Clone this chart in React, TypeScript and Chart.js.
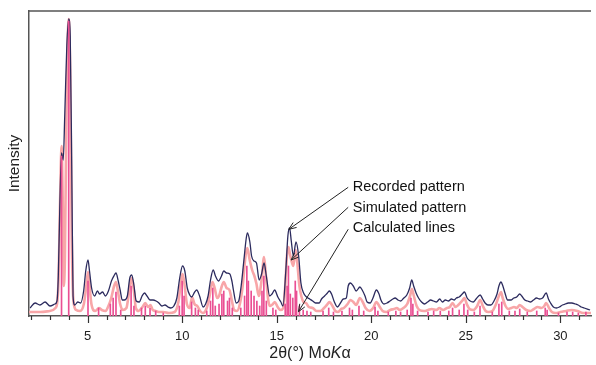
import React, { useEffect, useRef } from 'react';
import { Chart, registerables } from 'chart.js';

Chart.register(...registerables);

// ---- axis range and tick labels ----
const X_MIN = 1.9;
const X_MAX = 31.62;
const Y_MAX = 305;
const xMajorTicks = [5, 10, 15, 20, 25, 30];
const xMinorTicks = [2, 3, 4, 6, 7, 8, 9, 11, 12, 13, 14, 16, 17, 18, 19, 21, 22, 23, 24, 26, 27, 28, 29, 31];

// ---- recorded pattern (2θ, intensity) ----
const recordedTheta = [
  1.96, 2.22, 2.48, 2.75, 3.01, 3.27, 3.38, 3.45, 3.53, 3.62, 3.71, 3.79, 3.9, 4.0, 4.08, 4.16, 4.23, 4.32, 4.48, 4.63,
  4.79, 4.9, 5.02, 5.1, 5.21, 5.37, 5.52, 5.63, 5.79, 5.94, 6.1, 6.26, 6.39, 6.5, 6.62, 6.73, 6.83, 6.94, 7.1, 7.23,
  7.33, 7.44, 7.57, 7.73, 7.88, 8.01, 8.14, 8.3, 8.46, 8.62, 8.77, 8.93, 9.09, 9.25, 9.4, 9.56, 9.72, 9.87, 10.02, 10.14,
  10.27, 10.4, 10.5, 10.66, 10.77, 10.92, 11.11, 11.24, 11.37, 11.5, 11.64, 11.76, 11.92, 12.08, 12.2, 12.34, 12.52, 12.63, 12.71, 12.86,
  12.99, 13.12, 13.26, 13.39, 13.45, 13.58, 13.67, 13.8, 13.93, 14.07, 14.2, 14.33, 14.45, 14.63, 14.75, 14.89, 15.06, 15.22, 15.33, 15.48,
  15.59, 15.68, 15.77, 15.88, 16.02, 16.16, 16.28, 16.42, 16.58, 16.74, 16.9, 17.05, 17.25, 17.37, 17.53, 17.68, 17.79, 17.9, 18.05, 18.21,
  18.37, 18.52, 18.68, 18.78, 18.9, 19.05, 19.2, 19.4, 19.52, 19.67, 19.78, 19.94, 20.09, 20.27, 20.41, 20.51, 20.67, 20.83, 20.99, 21.14,
  21.26, 21.41, 21.56, 21.72, 21.88, 22.03, 22.14, 22.24, 22.37, 22.5, 22.66, 22.82, 22.98, 23.14, 23.29, 23.45, 23.62, 23.76, 23.92, 24.08,
  24.24, 24.39, 24.5, 24.65, 24.81, 24.93, 25.07, 25.23, 25.39, 25.54, 25.76, 25.89, 26.02, 26.17, 26.33, 26.49, 26.65, 26.75, 26.86, 26.96,
  27.07, 27.21, 27.38, 27.54, 27.69, 27.85, 27.96, 28.12, 28.27, 28.43, 28.58, 28.74, 28.9, 29.06, 29.25, 29.37, 29.48, 29.63, 29.79, 29.95,
  30.11, 30.26, 30.42, 30.61, 30.79, 30.94, 31.1, 31.26, 31.57,
];
const recordedI = [
  8, 13, 11, 14, 10, 12, 15, 40, 110, 163, 156, 200, 270, 297, 280, 150, 20, 11, 14, 13,
  25, 45, 56, 45, 28, 20, 25, 22, 24, 20, 25, 35, 40, 43, 35, 25, 16, 16, 20, 38,
  41, 32, 15, 14, 20, 23, 20, 16, 16, 15, 13, 10, 11, 9, 8, 10, 18, 38, 50, 45,
  28, 21, 19, 24, 26, 20, 9, 12, 20, 36, 46, 40, 35, 40, 45, 43, 42, 35, 26, 13,
  15, 30, 55, 78, 83, 74, 60, 55, 53, 36, 42, 53, 40, 20, 22, 26, 19, 14, 10, 45,
  80, 88, 75, 60, 74, 60, 33, 23, 19, 17, 15, 13, 13, 17, 20, 23, 25, 22, 14, 9,
  13, 17, 18, 30, 33, 30, 25, 29, 26, 20, 14, 13, 18, 26, 22, 16, 12, 13, 15, 17,
  18, 16, 15, 18, 21, 28, 36, 30, 23, 18, 14, 12, 14, 16, 15, 14, 17, 14, 16, 15,
  17, 16, 18, 19, 22, 24, 18, 15, 14, 17, 21, 17, 13, 11, 11, 15, 22, 30, 34, 30,
  23, 16, 16, 18, 19, 22, 20, 16, 15, 14, 16, 18, 17, 18, 23, 17, 13, 9, 8, 9,
  11, 12, 13, 13, 12, 11, 9, 8, 6,
];

// ---- simulated pattern (2θ, intensity) ----
const simulatedTheta = [
  1.9, 2.5, 3.0, 3.3, 3.45, 3.55, 3.62, 3.68, 3.74, 3.8, 3.88, 4.0, 4.08, 4.16, 4.25, 4.4, 4.6, 4.8, 4.93, 5.02,
  5.1, 5.2, 5.4, 5.6, 5.75, 5.95, 6.1, 6.25, 6.4, 6.5, 6.6, 6.72, 6.85, 7.05, 7.2, 7.33, 7.45, 7.55, 7.7, 7.9,
  8.05, 8.2, 8.32, 8.45, 8.6, 8.8, 9.0, 9.3, 9.6, 9.8, 9.95, 10.02, 10.12, 10.25, 10.4, 10.52, 10.65, 10.8, 10.95, 11.1,
  11.3, 11.45, 11.6, 11.72, 11.85, 11.95, 12.1, 12.2, 12.35, 12.5, 12.62, 12.75, 12.9, 13.05, 13.2, 13.35, 13.45, 13.55, 13.7, 13.82,
  13.93, 14.05, 14.2, 14.33, 14.43, 14.55, 14.65, 14.8, 14.9, 15.05, 15.2, 15.35, 15.45, 15.55, 15.62, 15.7, 15.77, 15.88, 16.0, 16.08,
  16.2, 16.3, 16.42, 16.55, 16.7, 16.9, 17.1, 17.3, 17.5, 17.65, 17.79, 17.95, 18.1, 18.25, 18.4, 18.55, 18.75, 18.9, 19.05, 19.2,
  19.4, 19.55, 19.7, 19.9, 20.1, 20.27, 20.45, 20.6, 20.8, 21.0, 21.2, 21.35, 21.5, 21.7, 21.9, 22.05, 22.15, 22.25, 22.4, 22.55,
  22.8, 23.0, 23.2, 23.45, 23.6, 23.8, 24.0, 24.15, 24.3, 24.45, 24.6, 24.8, 24.93, 25.05, 25.2, 25.4, 25.6, 25.76, 25.9, 26.05,
  26.2, 26.4, 26.6, 26.75, 26.86, 26.95, 27.1, 27.25, 27.4, 27.55, 27.7, 27.85, 28.0, 28.2, 28.43, 28.6, 28.8, 29.0, 29.15, 29.25,
  29.4, 29.55, 29.75, 30.0, 30.3, 30.6, 30.9, 31.2, 31.62,
];
const simulatedI = [
  4, 4, 5, 8, 30, 120, 170, 120, 30, 60, 200, 297, 240, 80, 15, 6, 5, 12, 30, 44,
  30, 12, 5, 8, 6, 5, 10, 18, 30, 34, 25, 12, 6, 8, 25, 38, 25, 8, 5, 9,
  13, 9, 11, 6, 5, 4, 4, 3, 4, 14, 36, 42, 32, 12, 8, 19, 12, 10, 5, 3,
  8, 20, 34, 28, 18, 20, 30, 34, 28, 26, 16, 6, 5, 12, 30, 60, 68, 58, 46, 40,
  32, 20, 36, 59, 40, 16, 10, 12, 14, 9, 6, 8, 30, 62, 69, 62, 56, 50, 66, 55,
  30, 20, 14, 13, 9, 8, 5, 5, 8, 11, 14, 10, 5, 4, 7, 8, 12, 16, 14, 11,
  18, 14, 8, 5, 8, 14, 9, 5, 4, 6, 7, 8, 6, 8, 12, 20, 27, 20, 10, 6,
  5, 6, 7, 6, 8, 6, 8, 9, 13, 9, 11, 15, 18, 12, 7, 6, 10, 16, 10, 5,
  4, 5, 12, 20, 24, 18, 10, 7, 8, 9, 8, 11, 9, 6, 5, 7, 9, 8, 10, 13,
  8, 4, 3, 4, 5, 6, 5, 3, 3,
];

// ---- calculated lines (2θ, intensity) ----
const lineTheta = [
  3.62, 4.0, 5.02, 5.58, 6.2, 6.35, 6.5, 6.75, 7.3, 7.45, 7.85, 8.05, 8.3, 8.6, 9.0, 9.85, 10.0, 10.1, 10.5, 10.7,
  10.85, 11.3, 11.5, 11.62, 11.75, 11.95, 12.1, 12.2, 12.4, 12.5, 12.65, 13.1, 13.3, 13.42, 13.5, 13.65, 13.8, 13.95, 14.1, 14.22,
  14.32, 14.45, 14.8, 14.95, 15.45, 15.55, 15.62, 15.72, 15.85, 15.98, 16.05, 16.2, 16.4, 16.6, 16.8, 17.45, 17.75, 18.0, 18.45, 18.85,
  19.0, 19.35, 19.6, 20.2, 20.35, 20.9, 21.3, 21.55, 21.9, 22.1, 22.2, 22.45, 23.0, 23.3, 23.65, 24.1, 24.3, 24.65, 24.9, 25.1,
  25.45, 25.75, 26.4, 26.75, 26.9, 27.3, 27.6, 27.85, 28.25, 28.75, 29.2, 29.3, 29.9, 30.35, 30.65, 30.95, 31.35,
];
const lineI = [
  160, 295, 35, 8, 12, 18, 24, 6, 30, 10, 8, 10, 8, 5, 3, 10, 35, 20, 14, 8,
  6, 5, 15, 28, 10, 12, 22, 25, 15, 18, 8, 8, 20, 50, 35, 25, 20, 15, 10, 25,
  40, 15, 8, 6, 12, 30, 50, 22, 18, 35, 25, 10, 6, 5, 4, 5, 8, 4, 5, 8,
  6, 10, 5, 9, 5, 4, 5, 4, 6, 18, 12, 5, 4, 5, 5, 5, 8, 6, 12, 6,
  4, 10, 4, 12, 14, 5, 5, 7, 4, 5, 8, 6, 3, 4, 4, 3, 4,
];

// ---- annotation labels with arrows (data coordinates) ----
const annotationLabels = ['Recorded pattern', 'Simulated pattern', 'Calculated lines'];
const annotationTextAt = [[19.02, 129], [19.02, 108.5], [19.02, 88]];
const annotationArrowFrom = [[18.78, 128.7], [18.78, 108.7], [18.78, 86.7]];
const annotationArrowTo = [[15.64, 86.7], [15.76, 56], [16.15, 4.3]];

const FONT = '"Liberation Sans", Arial, Helvetica, sans-serif';
const AXIS_COLOR = '#555555';

const zip = (xs: number[], ys: number[]) => xs.map((x, i) => ({ x, y: ys[i] }));

const decorPlugin = {
  id: 'decor',
  afterDatasetsDraw(chart: any) {
    const { ctx, scales } = chart;
    const xs = scales.x;
    const ys = scales.y;
    ctx.save();
    ctx.strokeStyle = '#222222';
    ctx.fillStyle = '#111111';
    ctx.lineWidth = 1;
    ctx.font = `14.5px ${FONT}`;
    ctx.textBaseline = 'middle';
    ctx.textAlign = 'left';
    annotationLabels.forEach((label, i) => {
      const tx = xs.getPixelForValue(annotationTextAt[i][0]);
      const ty = ys.getPixelForValue(annotationTextAt[i][1]);
      ctx.fillText(label, tx, ty);
      const x0 = xs.getPixelForValue(annotationArrowFrom[i][0]);
      const y0 = ys.getPixelForValue(annotationArrowFrom[i][1]);
      const x1 = xs.getPixelForValue(annotationArrowTo[i][0]);
      const y1 = ys.getPixelForValue(annotationArrowTo[i][1]);
      ctx.beginPath();
      ctx.moveTo(x0, y0);
      ctx.lineTo(x1, y1);
      ctx.stroke();
      const ang = Math.atan2(y1 - y0, x1 - x0);
      const L = 8;
      const spread = 0.38;
      ctx.beginPath();
      ctx.moveTo(x1 - L * Math.cos(ang - spread), y1 - L * Math.sin(ang - spread));
      ctx.lineTo(x1, y1);
      ctx.lineTo(x1 - L * Math.cos(ang + spread), y1 - L * Math.sin(ang + spread));
      ctx.stroke();
    });
    ctx.restore();
  },
  afterDraw(chart: any) {
    const { ctx, chartArea, scales } = chart;
    const xs = scales.x;
    ctx.save();
    ctx.strokeStyle = AXIS_COLOR;
    ctx.lineWidth = 1.5;
    ctx.beginPath();
    ctx.moveTo(chartArea.left, chartArea.top);
    ctx.lineTo(chartArea.right, chartArea.top);
    ctx.stroke();
    ctx.lineWidth = 1.2;
    ctx.strokeStyle = '#333333';
    const b = chartArea.bottom;
    xMajorTicks.forEach((v) => {
      const px = Math.round(xs.getPixelForValue(v)) + 0.5;
      ctx.beginPath();
      ctx.moveTo(px, b);
      ctx.lineTo(px, b + 7);
      ctx.stroke();
    });
    xMinorTicks.forEach((v) => {
      const px = Math.round(xs.getPixelForValue(v)) + 0.5;
      ctx.beginPath();
      ctx.moveTo(px, b);
      ctx.lineTo(px, b + 4);
      ctx.stroke();
    });
    const parts = [
      { t: '2θ(°) Mo', f: `16px ${FONT}` },
      { t: 'K', f: `italic 16px ${FONT}` },
      { t: 'α', f: `16px ${FONT}` },
    ];
    let total = 0;
    parts.forEach((p) => {
      ctx.font = p.f;
      total += ctx.measureText(p.t).width;
    });
    let cx = (chartArea.left + chartArea.right) / 2 - total / 2;
    ctx.fillStyle = '#222222';
    ctx.textBaseline = 'middle';
    ctx.textAlign = 'left';
    parts.forEach((p) => {
      ctx.font = p.f;
      ctx.fillText(p.t, cx, 354);
      cx += ctx.measureText(p.t).width;
    });
    ctx.restore();
  },
};

export default function App() {
  const canvasRef = useRef<HTMLCanvasElement | null>(null);

  useEffect(() => {
    document.body.style.margin = '0';
    const canvas = canvasRef.current;
    if (!canvas) return;
    const chart = new Chart(canvas, {
      type: 'line',
      data: {
        datasets: [
          {
            type: 'bar',
            label: 'Calculated lines',
            data: zip(lineTheta, lineI),
            backgroundColor: '#ea4f93',
            borderWidth: 0,
            barThickness: 1,
            order: 0,
          } as any,
          {
            label: 'Recorded pattern',
            data: zip(recordedTheta, recordedI),
            borderColor: '#2c2b5e',
            borderWidth: 1.3,
            pointRadius: 0,
            tension: 0.3,
            cubicInterpolationMode: 'monotone',
            fill: false,
            order: 1,
          },
          {
            label: 'Simulated pattern',
            data: zip(simulatedTheta, simulatedI),
            borderColor: '#f8a6a8',
            borderWidth: 2.6,
            pointRadius: 0,
            cubicInterpolationMode: 'monotone',
            fill: false,
            order: 2,
          },
        ],
      },
      options: {
        animation: false,
        responsive: true,
        maintainAspectRatio: false,
        layout: { padding: { top: 11, right: 0, left: 0, bottom: 0 } },
        plugins: {
          legend: { display: false },
          tooltip: { enabled: false },
        },
        scales: {
          x: {
            type: 'linear',
            min: X_MIN,
            max: X_MAX,
            offset: false,
            afterFit: (scale: any) => {
              scale.height = 49;
            },
            grid: { display: true, drawOnChartArea: false, drawTicks: true, tickLength: 8, tickColor: 'rgba(0,0,0,0)' },
            border: { display: true, color: AXIS_COLOR, width: 1.5 },
            ticks: {
              stepSize: 1,
              autoSkip: false,
              maxRotation: 0,
              padding: 5,
              color: '#222222',
              font: { family: FONT, size: 13 },
              callback: (v: any) => (xMajorTicks.includes(Number(v)) ? String(v) : ''),
            },
          },
          y: {
            type: 'linear',
            min: 0,
            max: Y_MAX,
            afterFit: (scale: any) => {
              scale.width = 29;
            },
            grid: { display: false, drawTicks: false },
            border: { display: true, color: AXIS_COLOR, width: 1.5 },
            ticks: { display: false },
            title: {
              display: true,
              text: 'Intensity',
              color: '#222222',
              font: { family: FONT, size: 15.5 },
              padding: { top: 5, bottom: 0 },
            },
          },
        },
      },
      plugins: [decorPlugin],
    });
    return () => chart.destroy();
  }, []);

  return (
    <div style={{ position: 'fixed', left: 0, top: 0, width: 596, height: 365, background: '#ffffff' }}>
      <canvas ref={canvasRef} />
    </div>
  );
}
